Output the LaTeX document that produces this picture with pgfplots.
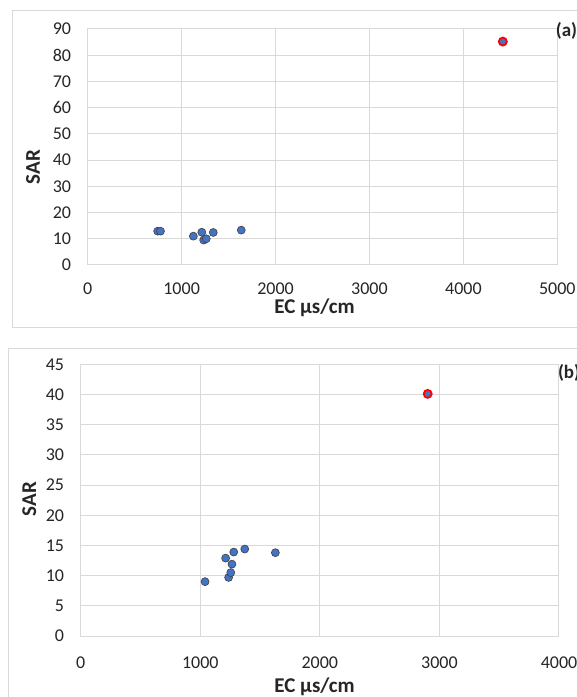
\documentclass[border=0pt]{standalone}
\usepackage{pgfplots}
\pgfplotsset{compat=1.18}
\usepackage{fontspec}
\setmainfont{Carlito}
\definecolor{xblue}{HTML}{4472C4}
\definecolor{xgrid}{HTML}{D9D9D9}
\definecolor{xtext}{HTML}{262626}
\pgfplotsset{
  xlstyle/.style={
    scale only axis,
    grid=major,
    grid style={xgrid, line width=1pt},
    axis line style={xgrid, line width=1pt},
    major tick length=0pt,
    tick align=inside,
    /pgf/number format/assume math mode=true,
    /pgf/number format/1000 sep={},
    tick label style={font=\fontsize{18}{20}\selectfont, text=xtext, inner sep=0pt},
    yticklabel style={anchor=east, xshift=-16.5pt},
    xticklabel style={anchor=north, yshift=-17.5pt},
    label style={font=\bfseries\fontsize{21}{24}\selectfont, text=xtext, inner sep=0pt},
    clip=false,
  },
  blu/.style={only marks, mark=*, mark size=4pt, mark options={fill=xblue, draw=black!75, line width=0.6pt}},
  redp/.style={only marks, mark=*, mark size=4pt, mark options={fill=xblue, draw=red, line width=1.8pt}},
}
\begin{document}
\begin{tikzpicture}[x=1pt,y=1pt]
\useasboundingbox (0pt,0pt) rectangle (577pt,697pt);
\clip (0pt,0pt) rectangle (577pt,697pt);
\fill[white] (0pt,0pt) rectangle (577pt,697pt);
\draw[xgrid, line width=1pt] (12.3pt,369.7pt) rectangle (600pt,686.3pt);
\draw[xgrid, line width=1pt] (8.3pt,-10pt) rectangle (600pt,348.7pt);

\begin{axis}[xlstyle,
  at={(87.7pt,432pt)}, anchor=south west,
  width=469.6pt, height=236pt,
  xmin=0, xmax=5000, ymin=0, ymax=90,
  xtick={0,1000,...,5000}, ytick={0,10,...,90},
  xlabel={EC µs/cm}, ylabel={SAR},
  xlabel style={at={(axis description cs:0.483,-0.1822)}, anchor=center},
  ylabel style={at={(axis description cs:-0.1165,0.415)}, anchor=center},
]
\addplot[blu] coordinates {(745,12.9) (775,12.9) (1125,11.0) (1215,12.5) (1235,9.5) (1262,10.0) (1337,12.4) (1635,13.3)};
\addplot[redp] coordinates {(4420,85.2)};
\node[anchor=west, font=\bfseries\fontsize{19}{22}\selectfont, text=xtext, inner sep=0pt] at (axis description cs:0.9965,0.99) {(a)};
\end{axis}

\begin{axis}[xlstyle,
  at={(80.7pt,61pt)}, anchor=south west,
  width=478.3pt, height=271.7pt,
  xmin=0, xmax=4000, ymin=0, ymax=45,
  xtick={0,1000,...,4000}, ytick={0,5,...,45},
  xticklabel style={yshift=-3pt},
  xlabel={EC µs/cm}, ylabel={SAR},
  xlabel style={at={(axis description cs:0.489,-0.1866)}, anchor=center},
  ylabel style={at={(axis description cs:-0.1073,0.504)}, anchor=center},
]
\addplot[blu] coordinates {(1040,9.0) (1212,12.9) (1237,9.7) (1255,10.5) (1265,11.9) (1280,13.9) (1372,14.4) (1628,13.8)};
\addplot[redp] coordinates {(2902,40.1)};
\node[anchor=west, font=\bfseries\fontsize{19}{22}\selectfont, text=xtext, inner sep=0pt] at (axis description cs:0.9975,0.97) {(b)};
\end{axis}
\end{tikzpicture}
\end{document}
